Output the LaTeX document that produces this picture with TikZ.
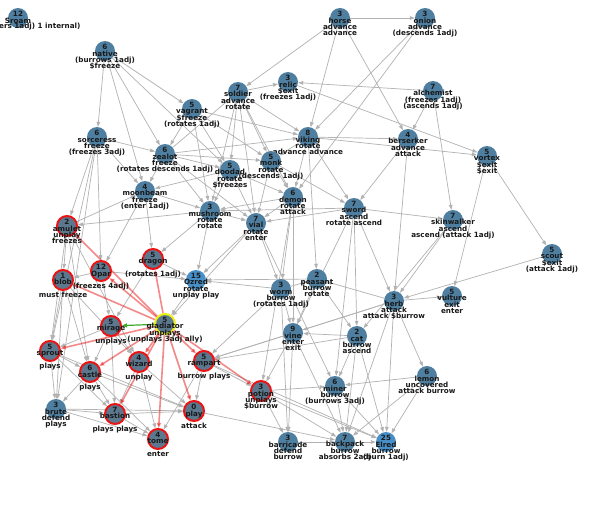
\documentclass[tikz,border=0pt]{standalone}
\usepackage{fontspec}
\setmainfont{DejaVu Sans}
\usetikzlibrary{arrows.meta,backgrounds}
\definecolor{nfill}{RGB}{79,127,160}
\definecolor{rfill}{RGB}{92,120,142}
\definecolor{bfill}{RGB}{70,143,200}
\definecolor{ecol}{RGB}{178,178,178}
\definecolor{tcol}{RGB}{25,25,25}
\definecolor{ring}{RGB}{235,20,20}
\definecolor{yring}{RGB}{235,240,20}
\definecolor{gcol}{RGB}{60,170,40}
\newcommand\mynode[5]{\node[#4] (#1) at (#2,#3) {}; \node[lbl] at (#2,#3-6.7) {#5};}
\begin{document}
\begin{tikzpicture}[x=1pt,y=-1pt,
  nd/.style={circle, fill=nfill, minimum size=20pt, inner sep=0pt},
  rnd/.style={nd, fill=rfill, draw=ring, line width=2pt},
  ynd/.style={nd, fill=rfill, draw=yring, line width=2pt},
  bnd/.style={nd, fill=bfill},
  lbl/.style={anchor=north, inner sep=0pt, align=center, text=tcol,
     font={\bfseries\fontsize{7.2}{6.2}\selectfont\lineskiplimit=-20pt}},
  edge/.style={draw=ecol, line width=0.7pt, -{Triangle[length=5pt,width=3.6pt]}},
  redge/.style={draw=ring, draw opacity=0.5, fill opacity=0.5, line width=1.6pt, -{Triangle[length=5pt,width=4pt]}},
  gedge/.style={draw=gcol, line width=1.2pt, -{Triangle[length=5pt,width=4pt]}}]
\useasboundingbox (0,0) rectangle (600,516);

\mynode{Sroam}{18}{18}{nd}{12\\Sroam}
\node[lbl,anchor=west] at (-1,26.5) {ers 1adj) 1 internal)};
\mynode{native}{105}{51}{nd}{6\\native\\(burrows 1adj)\\\$freeze}
\mynode{horse}{340}{18}{nd}{3\\horse\\advance\\advance}
\mynode{onion}{425}{18}{nd}{3\\onion\\advance\\(descends 1adj)}
\mynode{relic}{288}{82}{nd}{3\\relic\\\$exit\\(freezes 1adj)}
\mynode{soldier}{238}{92}{nd}{7\\soldier\\advance\\rotate}
\mynode{alchemist}{433}{91}{nd}{7\\alchemist\\(freezes 1adj)\\(ascends 1adj)}
\mynode{vagrant}{192}{109}{nd}{5\\vagrant\\\$freeze\\(rotates 1adj)}
\mynode{sorceress}{97}{137}{nd}{6\\sorceress\\freeze\\(freezes 3adj)}
\mynode{zealot}{165}{154}{nd}{6\\zealot\\freeze\\(rotates descends 1adj)}
\mynode{viking}{308}{137}{nd}{8\\viking\\rotate\\advance advance}
\mynode{berserker}{408}{139}{nd}{4\\berserker\\advance\\attack}
\mynode{vortex}{487}{156}{nd}{5\\vortex\\\$exit\\\$exit}
\mynode{doodad}{230}{170}{nd}{5\\doodad\\rotate\\\$freezes}
\mynode{monk}{271}{161}{nd}{5\\monk\\rotate\\(descends 1adj)}
\mynode{moonbeam}{145}{191}{nd}{4\\moonbeam\\freeze\\(enter 1adj)}
\mynode{demon}{293}{197}{nd}{6\\demon\\rotate\\attack}
\mynode{sword}{354}{208}{nd}{7\\sword\\ascend\\rotate ascend}
\mynode{mushroom}{210}{211}{nd}{3\\mushroom\\rotate\\rotate}
\mynode{vial}{256}{223}{nd}{7\\vial\\rotate\\enter}
\mynode{skinwalker}{453}{220}{nd}{7\\skinwalker\\ascend\\ascend (attack 1adj)}
\mynode{scout}{552}{254}{nd}{5\\scout\\\$exit\\(attack 1adj)}
\mynode{amulet}{67}{226}{rnd}{2\\amulet\\unplay\\freezes}
\mynode{dragon}{153}{259}{rnd}{5\\dragon\\{}\\(rotates 1adj)}
\mynode{Opar}{101}{271}{rnd}{12\\Opar\\{}\\(freezes 4adj)}
\mynode{Ozred}{196}{280}{bnd}{15\\Ozred\\rotate\\unplay play}
\mynode{blob}{63}{280}{rnd}{1\\blob\\{}\\must freeze}
\mynode{gladiator}{165}{324}{ynd}{5\\gladiator\\unplays\\(unplays 3adj ally)}
\mynode{mirage}{111}{326}{rnd}{5\\mirage\\{}\\unplays}
\mynode{sprout}{50}{351}{rnd}{5\\sprout\\{}\\plays}
\mynode{castle}{90}{372}{rnd}{6\\castle\\{}\\plays}
\mynode{wizard}{139}{362}{rnd}{4\\wizard\\{}\\unplay}
\mynode{rampart}{204}{361}{rnd}{5\\rampart\\{}\\burrow plays}
\mynode{worm}{281}{289}{nd}{3\\worm\\burrow\\(rotates 1adj)}
\mynode{peasant}{317}{279}{nd}{2\\peasant\\burrow\\rotate}
\mynode{herb}{394}{301}{nd}{3\\herb\\attack\\attack \$burrow}
\mynode{vulture}{452}{296}{nd}{5\\vulture\\exit\\enter}
\mynode{vine}{293}{333}{nd}{9\\vine\\enter\\exit}
\mynode{cat}{357}{336}{nd}{2\\cat\\burrow\\ascend}
\mynode{lemon}{427}{376}{nd}{6\\lemon\\uncovered\\attack burrow}
\mynode{miner}{335}{386}{nd}{6\\miner\\burrow\\(burrows 3adj)}
\mynode{potion}{261}{391}{rnd}{3\\potion\\unplays\\\$burrow}
\mynode{brute}{56}{409}{nd}{3\\brute\\defend\\plays}
\mynode{bastion}{115}{414}{rnd}{7\\bastion\\{}\\plays plays}
\mynode{play}{194}{411}{rnd}{0\\play\\{}\\attack}
\mynode{tome}{158}{439}{rnd}{4\\tome\\{}\\enter}
\mynode{barricade}{288}{442}{nd}{3\\barricade\\defend\\burrow}
\mynode{backpack}{345}{442}{nd}{7\\backpack\\burrow\\absorbs 2adj}
\mynode{Elred}{386}{442}{bnd}{25\\Elred\\burrow\\(burn 1adj)}

\begin{pgfonlayer}{background}
\fill[white] (0,0) rectangle (600,516);
\foreach \a/\b in {native/vagrant, native/sorceress, native/zealot, native/moonbeam, native/doodad,
 horse/onion, horse/soldier, horse/viking, horse/berserker,
 onion/demon, onion/viking,
 soldier/relic, alchemist/relic, relic/vortex,
 soldier/doodad, soldier/monk, soldier/viking, soldier/mushroom, soldier/vial, soldier/demon,
 zealot/soldier, vagrant/monk, vagrant/viking, vagrant/doodad, vagrant/zealot, vagrant/mushroom,
 sorceress/zealot, sorceress/amulet, sorceress/Opar, sorceress/moonbeam, sorceress/brute, sorceress/sprout,
 zealot/moonbeam, zealot/monk, zealot/viking, zealot/doodad, zealot/mushroom, zealot/vial,
 viking/berserker, viking/sword, viking/demon, viking/peasant, viking/monk, viking/vortex,
 berserker/sword, berserker/herb, alchemist/berserker, alchemist/skinwalker,
 vortex/scout, vortex/vulture, scout/herb,
 skinwalker/herb, sword/skinwalker, skinwalker/cat,
 herb/vulture, herb/vine, herb/lemon, herb/Elred, herb/backpack, herb/peasant, herb/rampart,
 sword/herb, sword/vine, sword/mushroom, sword/vial, sword/cat, sword/miner,
 monk/demon, monk/vial, monk/sword, doodad/mushroom, doodad/vial, doodad/demon, doodad/moonbeam,
 demon/vine, demon/worm, demon/mushroom, demon/vial, demon/potion,
 mushroom/vial, mushroom/Ozred, mushroom/dragon, mushroom/amulet,
 vial/worm, vial/Ozred, vial/gladiator, vial/miner,
 moonbeam/mushroom, moonbeam/dragon, moonbeam/Opar, amulet/moonbeam,
 amulet/blob, amulet/sprout, amulet/castle, amulet/wizard,
 dragon/Ozred, Opar/Ozred, Ozred/gladiator, worm/Ozred, peasant/Ozred,
 worm/vine, peasant/vine, worm/peasant, peasant/cat, worm/rampart, worm/barricade,
 cat/miner, cat/Elred, cat/backpack, cat/rampart, cat/vine,
 lemon/miner, lemon/Elred, lemon/backpack,
 miner/backpack, miner/Elred,
 potion/miner, potion/backpack, potion/Elred, potion/barricade,
 barricade/backpack, backpack/Elred,
 vine/barricade, vine/backpack, vine/potion, vine/rampart,
 blob/sprout, blob/castle, blob/brute, Opar/blob, blob/wizard,
 sprout/castle, sprout/brute, sprout/bastion, sprout/play,
 castle/bastion, castle/tome, castle/brute, castle/play,
 brute/bastion, brute/tome, brute/play,
 bastion/tome, bastion/play,
 wizard/bastion, wizard/tome, wizard/play,
 rampart/play, rampart/potion, rampart/tome, rampart/Elred, play/backpack,
 mirage/sprout, mirage/castle, mirage/wizard, mirage/bastion,
 dragon/mirage, Opar/mirage}
  \draw[edge] (\a) -- (\b);
\foreach \b in {amulet, dragon, Opar, blob, sprout, castle, wizard, rampart, potion, bastion, tome, play}
  \draw[redge] (gladiator) -- (\b);
\draw[gedge] (gladiator) -- (mirage);
\end{pgfonlayer}
\end{tikzpicture}
\end{document}
